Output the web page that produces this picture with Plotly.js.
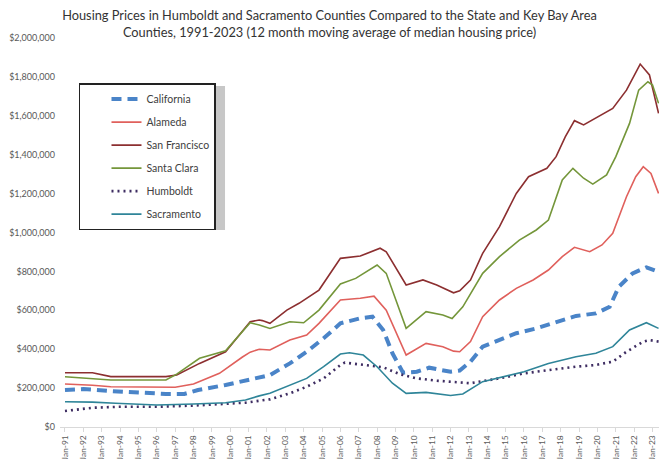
<!DOCTYPE html>
<html>
<head>
<meta charset="utf-8">
<script src="https://cdn.plot.ly/plotly-3.0.1.min.js"></script>
<style>html,body{margin:0;padding:0;background:#fff;}#chart{width:659px;height:459px;}</style>
</head>
<body>
<div id="chart"></div>
<script>
// ---- Data (12-month moving average of median housing price) ----
const sfDates = ["1991-01","1992-07","1993-07","1995-01","1996-07","1997-02","1998-05","1999-10","2001-02","2001-08","2001-10","2002-03","2003-02","2003-10","2004-11","2006-01","2007-02","2008-03","2008-07","2009-08","2010-07","2011-04","2012-03","2012-07","2013-02","2013-10","2014-09","2015-08","2016-04","2017-04","2017-10","2018-04","2018-10","2019-04","2019-12","2020-11","2021-08","2022-02","2022-05","2022-11","2023-05"];
const sfValues = [279000,279000,259000,259000,259000,267000,327000,387000,541000,550000,547000,533000,601000,636000,704000,867000,879000,919000,901000,730000,756000,730000,690000,700000,756000,893000,1030000,1201000,1287000,1330000,1390000,1492000,1575000,1553000,1587000,1638000,1732000,1818000,1866000,1810000,1613000];

const scDates = ["1991-01","1992-07","1993-07","1995-01","1996-07","1997-02","1998-05","1999-10","2001-02","2001-08","2002-03","2003-04","2004-01","2004-11","2006-01","2006-11","2008-01","2008-07","2009-08","2010-09","2011-08","2012-02","2012-09","2013-10","2014-09","2015-10","2016-09","2017-05","2018-02","2018-09","2019-04","2019-10","2020-07","2021-01","2021-10","2022-04","2022-10","2023-01","2023-05"];
const scValues = [258000,250000,242000,242000,242000,272000,353000,392000,536000,524000,507000,541000,536000,601000,735000,764000,833000,790000,507000,593000,576000,558000,618000,790000,876000,961000,1013000,1064000,1270000,1330000,1279000,1249000,1296000,1390000,1561000,1732000,1775000,1758000,1664000];

const alDates = ["1991-01","1992-07","1993-07","1995-07","1997-01","1998-01","1999-06","2000-09","2001-02","2001-08","2002-03","2003-04","2004-03","2004-11","2006-01","2007-02","2007-11","2008-07","2009-08","2010-09","2011-08","2012-03","2012-07","2013-02","2013-10","2014-09","2015-08","2016-07","2017-05","2018-02","2018-10","2019-08","2020-04","2020-11","2021-08","2022-02","2022-07","2022-12","2023-05"];
const alValues = [221000,215000,207000,204000,204000,221000,276000,360000,385000,400000,396000,447000,473000,533000,653000,662000,673000,601000,370000,430000,413000,390000,387000,439000,567000,653000,713000,756000,807000,876000,924000,901000,936000,996000,1184000,1287000,1338000,1304000,1201000];

const caDates = ["1991-01","1992-01","1993-07","1995-01","1996-07","1997-07","1998-04","1999-10","2000-11","2001-08","2002-03","2003-04","2004-03","2005-02","2006-01","2007-02","2007-10","2008-05","2008-11","2009-06","2010-03","2010-11","2012-01","2012-07","2013-02","2013-10","2014-09","2015-08","2016-09","2017-10","2018-11","2019-12","2020-09","2021-03","2021-12","2022-09","2023-05"];
const caValues = [190000,195000,185000,175000,170000,170000,190000,216000,240000,255000,267000,327000,387000,456000,533000,559000,567000,499000,379000,279000,284000,305000,284000,290000,336000,413000,447000,482000,507000,541000,571000,584000,618000,721000,790000,821000,798000];

const huDates = ["1991-01","1992-07","1994-01","1996-01","1998-01","1999-10","2000-11","2001-08","2002-03","2003-04","2004-03","2005-02","2006-01","2006-04","2007-04","2008-05","2009-04","2010-03","2011-04","2012-01","2013-02","2013-10","2014-09","2016-01","2017-05","2018-11","2019-12","2020-11","2021-08","2022-07","2022-11","2023-05"];
const huValues = [82000,99000,104000,104000,110000,118000,125000,135000,142000,173000,207000,250000,319000,331000,319000,307000,271000,250000,238000,233000,225000,236000,250000,276000,293000,310000,319000,336000,387000,439000,447000,439000];

const sacDates = ["1991-01","1992-07","1993-10","1996-01","1998-01","1999-10","2000-11","2001-02","2001-08","2002-03","2003-04","2004-03","2005-02","2006-01","2006-07","2007-04","2008-01","2008-11","2009-08","2010-09","2012-01","2012-09","2013-10","2014-11","2016-01","2017-05","2018-11","2019-12","2020-11","2021-10","2022-09","2023-05"];
const sacValues = [130000,128000,122000,113000,118000,125000,139000,147000,160000,173000,216000,250000,310000,375000,382000,370000,310000,225000,173000,178000,162000,170000,233000,259000,284000,327000,361000,379000,413000,499000,536000,507000];

const seriesNames = ["California","Alameda","San Francisco","Santa Clara","Humboldt","Sacramento"];
const titleText = "Housing Prices in Humboldt and Sacramento Counties Compared to the State and Key Bay Area<br>Counties, 1991-2023 (12 month moving average of median housing price)";

// ---- Traces ----
const FONT = "Lato, 'Open Sans', sans-serif";
function mk(name, x, y, line, g) {
  return {type: "scatter", mode: "lines", name: name, x: x, y: y, line: line,
          legendgroup: g, hoverinfo: "skip"};
}
const traces = [
  mk(seriesNames[0], caDates, caValues, {color: "#4a84c8", width: 4, dash: "10px,6px"}, "g1"),
  mk(seriesNames[1], alDates, alValues, {color: "#e0605c", width: 1.6}, "g2"),
  mk(seriesNames[2], sfDates, sfValues, {color: "#8c2f30", width: 1.6}, "g3"),
  mk(seriesNames[3], scDates, scValues, {color: "#74963a", width: 1.6}, "g4"),
  mk(seriesNames[4], huDates, huValues, {color: "#3e2d62", width: 2.6, dash: "2px,4px"}, "g5"),
  mk(seriesNames[5], sacDates, sacValues, {color: "#2f8599", width: 1.6}, "g6")
];

const layout = {
  width: 659, height: 459,
  margin: {l: 60, r: 0, t: 38, b: 32},
  paper_bgcolor: "#ffffff", plot_bgcolor: "#ffffff",
  font: {family: FONT, color: "#404040"},
  showlegend: true,
  title: {text: titleText, font: {family: FONT, size: 12.8, color: "#333333"},
          xref: "container", x: 0.5, xanchor: "center", yref: "container", y: 0.956, yanchor: "middle"},
  xaxis: {
    type: "date",
    range: ["1990-09-24", "2023-05-10"],
    tick0: "1991-01-01", dtick: "M12", tickformat: "%b-%y",
    tickangle: -90, ticks: "outside", ticklen: 4, tickcolor: "#d9d9d9",
    showline: true, linecolor: "#d9d9d9", linewidth: 1,
    showgrid: false, zeroline: false, automargin: false,
    tickfont: {family: FONT, size: 8.4, color: "#595959"}
  },
  yaxis: {
    range: [0, 2000000], dtick: 200000, tickprefix: "$", tickformat: ",d",
    showgrid: false, zeroline: false, showline: false, ticks: "",
    automargin: false, ticklabelstandoff: 4,
    tickfont: {family: FONT, size: 9, color: "#595959"}
  },
  legend: {
    x: 0.0317, y: 0.884, xanchor: "left", yanchor: "top",
    bgcolor: "#ffffff", bordercolor: "#222222", borderwidth: 1.5,
    font: {family: FONT, size: 10.5, color: "#404040"},
    traceorder: "grouped", tracegroupgap: 4, itemwidth: 30, indentation: 26
  },
  shapes: [{
    type: "rect", xref: "paper", yref: "paper", layer: "above",
    x0: 0.0367, x1: 0.2755, y0: 0.5064, y1: 0.8766,
    line: {width: 0}, fillcolor: "rgba(0,0,0,0.22)"
  }]
};

Plotly.newPlot("chart", traces, layout, {displayModeBar: false, staticPlot: true});
</script>
</body>
</html>
